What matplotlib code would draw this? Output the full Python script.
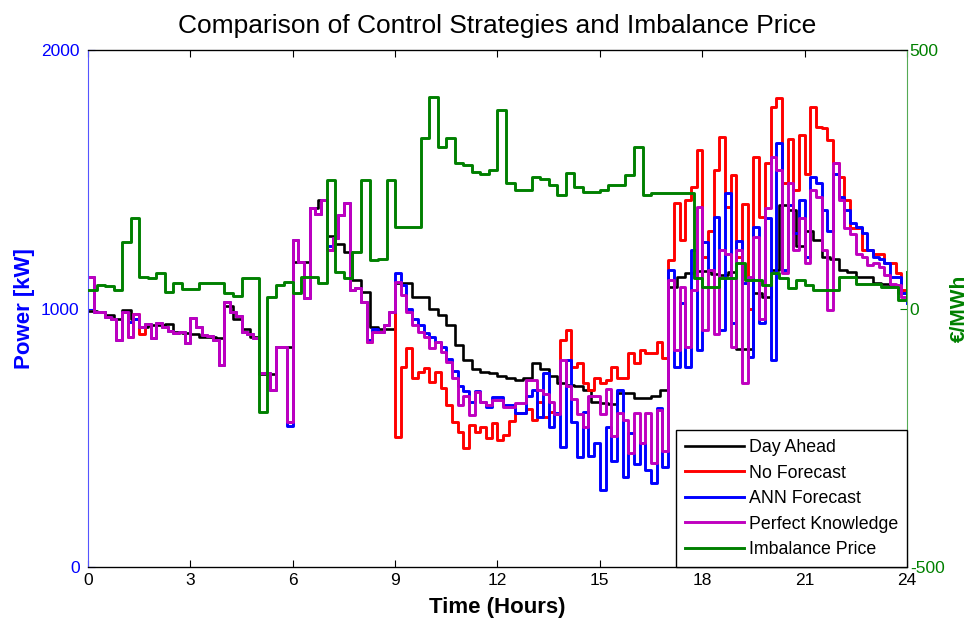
import numpy as np
import matplotlib
matplotlib.use("Agg")
import matplotlib.pyplot as plt

plt.rcParams['font.family'] = ['Liberation Sans', 'DejaVu Sans']
plt.rcParams['axes.unicode_minus'] = False

# ---------------- data ----------------
# 15-minute resolution (hours 0..24)
imbalance_price = [35, 45, 43, 36,
                   129, 175, 61, 59,
                   69, 32, 49, 37,
                   37, 50, 50, 50,
                   30, 24, 59, 59,
                   -200, 22, 45, 51,
                   30, 60, 60, 49,
                   248, 70, 59, 109,
                   248, 94, 96, 248,
                   158, 158, 158, 330,
                   409, 312, 330, 281,
                   277, 264, 260, 268,
                   384, 243, 229, 229,
                   255, 250, 239, 219,
                   262, 235, 226, 226,
                   230, 239, 239, 258,
                   312, 219, 223, 223,
                   223, 223, 223, 59,
                   42, 42, 59, 59,
                   88, 55, 55, 45,
                   68, 59, 40, 55,
                   45, 36, 36, 36,
                   61, 61, 47, 47,
                   47, 41, 41, 16,
                   70]

day_ahead = [990, 985, 975, 960,
             995, 960, 930, 935,
             935, 940, 910, 905,
             900, 890, 890, 885,
             1010, 960, 920, 890,
             745, 745, 850, 850,
             1180, 1180, 1390, 1420,
             1280, 1250, 1220, 1110,
             1064, 930, 920, 920,
             1100, 1100, 1045, 1045,
             1000, 975, 936, 860,
             800, 765, 755, 750,
             740, 730, 723, 730,
             789, 765, 740, 710,
             704, 700, 685, 640,
             634, 630, 673, 673,
             655, 653, 660, 685,
             1083, 1122, 1137, 1145,
             1145, 1135, 1130, 1140,
             845, 845, 1060, 1045,
             1150, 1400, 1380, 1240,
             1300, 1265, 1200, 1190,
             1150, 1140, 1120, 1120,
             1100, 1095, 1090, 1060,
             1045]

# 10-minute resolution (hours 0..24)
no_forecast = [1120, 985, 985, 967, 960, 878,
               985, 890, 980, 900, 940, 886,
               945, 930, 912, 905, 909, 866,
               963, 930, 897, 895, 880, 781,
               1025, 985, 970, 909, 900, 885,
               750, 751, 685, 851, 851, 560,
               1265, 1180, 1040, 1390, 1365, 1420,
               1226, 1273, 1362, 1408, 1070, 1080,
               1025, 870, 909, 909, 936, 985,
               503, 775, 847, 731, 754, 770,
               716, 754, 692, 627, 561, 522,
               460, 549, 522, 540, 499, 557,
               491, 510, 565, 596, 596, 611,
               570, 640, 580, 600, 590, 878,
               917, 774, 790, 712, 685, 730,
               710, 725, 774, 730, 730, 828,
               790, 840, 828, 828, 870, 808,
               1188, 1408, 1265, 1420, 1470, 1613,
               1199, 1300, 1536, 1665, 1393, 1516,
               1199, 1406, 1000, 1587, 1355, 1561,
               1780, 1813, 1484, 1656, 1458, 1670,
               1522, 1780, 1702, 1697, 1652, 1561,
               1510, 1420, 1312, 1312, 1226, 1226,
               1210, 1210, 1175, 1175, 1137, 1072,
               1072]

ann_forecast = [1120, 985, 985, 967, 960, 878,
                985, 947, 960, 929, 940, 886,
                945, 930, 912, 905, 909, 866,
                963, 930, 897, 895, 880, 781,
                1025, 985, 970, 909, 900, 885,
                750, 751, 685, 851, 851, 545,
                1265, 1180, 1040, 1390, 1365, 1420,
                1240, 1273, 1362, 1408, 1070, 1080,
                1025, 880, 920, 909, 936, 985,
                1137, 1090, 1000, 960, 935, 905,
                890, 870, 850, 805, 760, 700,
                680, 640, 680, 640, 620, 658,
                658, 627, 627, 596, 596, 660,
                685, 580, 750, 541, 594, 464,
                801, 560, 425, 600, 431, 480,
                298, 540, 410, 685, 348, 520,
                400, 480, 375, 325, 616, 385,
                1149, 774, 1021, 774, 1226, 839,
                1257, 1149, 1355, 917, 1446, 944,
                1260, 1100, 813, 1315, 944, 1350,
                801, 1640, 1149, 1400, 1292, 1420,
                1199, 1510, 1484, 1381, 1300, 1522,
                1430, 1381, 1330, 1315, 1292, 1226,
                1199, 1190, 1175, 1122, 1122, 1060,
                1021]

perfect_knowledge = [1120, 985, 985, 967, 960, 878,
                     985, 890, 980, 929, 940, 886,
                     945, 930, 912, 905, 909, 866,
                     963, 930, 897, 895, 880, 781,
                     1025, 985, 970, 909, 900, 885,
                     750, 751, 685, 851, 851, 560,
                     1265, 1180, 1040, 1390, 1365, 1420,
                     1226, 1273, 1362, 1408, 1070, 1080,
                     1025, 870, 909, 909, 936, 985,
                     1102, 1052, 985, 936, 909, 890,
                     847, 870, 832, 793, 731, 627,
                     660, 588, 677, 638, 627, 646,
                     646, 620, 620, 633, 633, 723,
                     723, 685, 670, 640, 590, 801,
                     700, 650, 590, 540, 660, 660,
                     590, 690, 505, 596, 570, 440,
                     596, 480, 596, 401, 607, 450,
                     1110, 840, 1083, 850, 1072, 1393,
                     917, 1149, 900, 1226, 1210, 851,
                     1226, 712, 1120, 1277, 960, 1390,
                     1587, 1536, 1137, 1484, 1226, 1350,
                     1175, 1458, 1430, 1226, 994, 1561,
                     1420, 1310, 1290, 1210, 1199, 1170,
                     1175, 1160, 1130, 1095, 1090, 1045,
                     1045]

x_ticks = [0, 3, 6, 9, 12, 15, 18, 21, 24]
left_ticks = [0, 1000, 2000]
right_ticks = [-500, 0, 500]

t15 = np.linspace(0, 24, len(day_ahead))
t10 = np.linspace(0, 24, len(no_forecast))

# ---------------- figure ----------------
fig = plt.figure(figsize=(9.71, 6.22), dpi=100)
ax = fig.add_axes([0.0906, 0.0884, 0.8435, 0.8312])
ax2 = ax.twinx()

lw = 2.1
l1, = ax.plot(t15, day_ahead, drawstyle='steps-post', color='black', lw=1.9, label='Day Ahead')
l2, = ax.plot(t10, no_forecast, drawstyle='steps-post', color='#ff0000', lw=lw, label='No Forecast')
l3, = ax.plot(t10, ann_forecast, drawstyle='steps-post', color='#0000ff', lw=lw, label='ANN Forecast')
l4, = ax.plot(t10, perfect_knowledge, drawstyle='steps-post', color='#bf00bf', lw=lw, label='Perfect Knowledge')
l5, = ax2.plot(t15, imbalance_price, drawstyle='steps-post', color='#008000', lw=lw, label='Imbalance Price')

ax.set_xlim(0, 24)
ax.set_ylim(0, 2000)
ax2.set_ylim(-500, 500)
ax.set_xticks(x_ticks)
ax.set_yticks(left_ticks)
ax2.set_yticks(right_ticks)

blue = '#0000ff'
green = '#008000'
ax.tick_params(axis='x', direction='in', length=5, top=True, labelsize=12.5, pad=4, colors='black')
ax.tick_params(axis='y', direction='in', length=5, labelsize=12.5, colors=blue, pad=6)
ax2.tick_params(axis='y', direction='in', length=5, labelsize=12.5, colors=green, pad=2)
ax.spines['left'].set_color('#5555ff')
ax2.spines['left'].set_visible(False)
ax2.spines['right'].set_color('#55aa55')
ax.spines['right'].set_visible(False)
ax2.spines['top'].set_color('black')
for s in ['top', 'bottom']:
    ax.spines[s].set_linewidth(0.9)

ax.set_title('Comparison of Control Strategies and Imbalance Price', fontsize=19, pad=12)
ax.set_xlabel('Time (Hours)', fontsize=16, fontweight='bold', labelpad=7)
ax.set_ylabel('Power [kW]', fontsize=16, fontweight='bold', color=blue, labelpad=4)
ax2.set_ylabel('€/MWh', fontsize=15, fontweight='bold', color=green)
ax2.yaxis.set_label_coords(1.053, 0.5)

leg = ax2.legend(handles=[l1, l2, l3, l4, l5], loc='lower right', borderaxespad=0,
                 fancybox=False, framealpha=1, edgecolor='black', fontsize=12.8,
                 handlelength=3.3, labelspacing=0.48, borderpad=0.5, handletextpad=0.3)
leg.get_frame().set_linewidth(1.0)

fig.savefig('out.png', dpi=100)
